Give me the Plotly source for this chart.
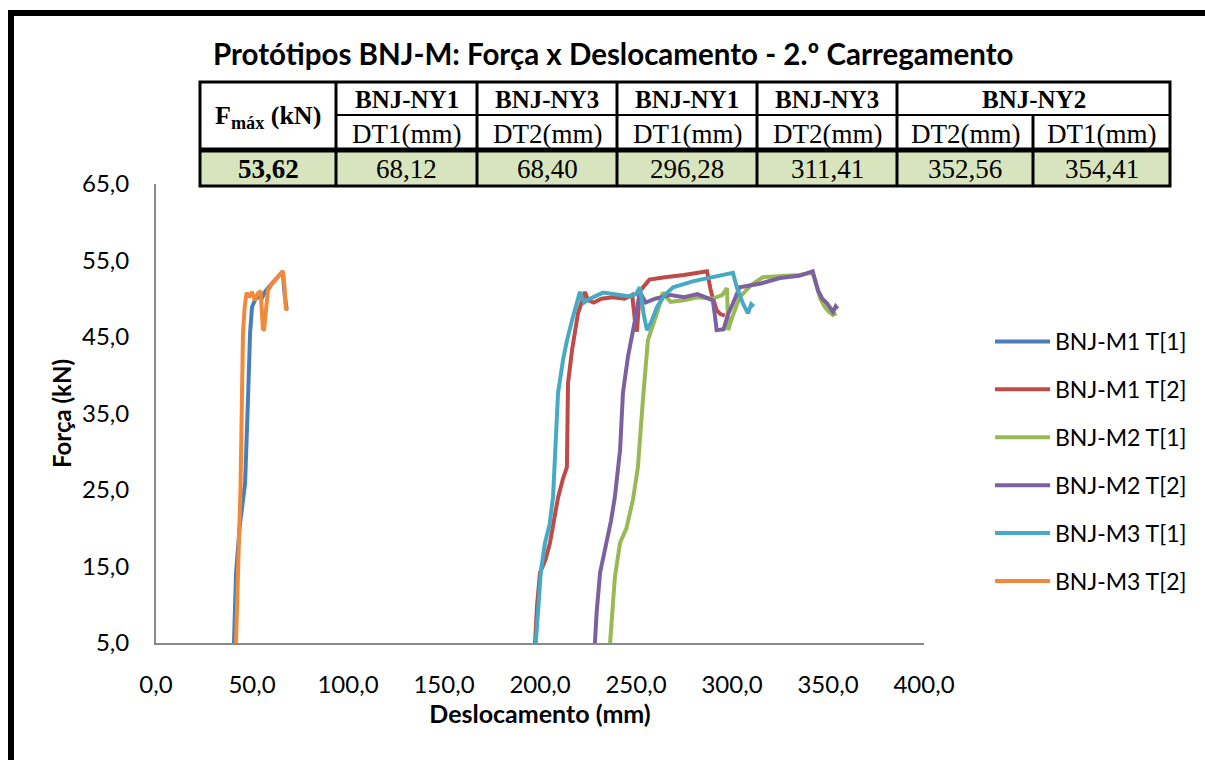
import plotly.graph_objects as go

# ---------------- data ----------------
series_names = ["BNJ-M1 T[1]", "BNJ-M1 T[2]", "BNJ-M2 T[1]", "BNJ-M2 T[2]", "BNJ-M3 T[1]", "BNJ-M3 T[2]"]
series_colors = ["#4A7EBB", "#BE4B48", "#98B954", "#7D60A0", "#46AAC5", "#F08A3A"]

m1t1_x = [40.6, 41.7, 43.5, 46.4, 47.9, 49.0, 50.0, 51.5, 53.0, 55.0, 57.0, 59.0, 61.5, 64.0, 66.0, 67.0, 68.1]
m1t1_y = [5.0, 14.2, 20.0, 25.9, 36.8, 45.5, 48.9, 49.8, 50.3, 50.0, 51.0, 51.5, 52.3, 53.0, 53.6, 50.5, 48.6]

m1t2_x = [197.4, 198.5, 200.0, 203.0, 205.2, 207.5, 209.4, 212.0, 214.0, 214.6, 216.7, 219.8, 223.4, 225.0, 228.0,
          232.0, 238.0, 244.0, 248.0, 249.5, 250.5, 252.0, 257.0, 265.0, 275.0, 287.0, 289.0, 292.0, 294.0, 296.3]
m1t2_y = [5.0, 10.0, 14.2, 16.0, 18.1, 21.0, 24.0, 26.5, 28.0, 39.0, 43.3, 48.1, 50.9, 49.8, 49.5,
          50.0, 50.2, 50.0, 50.5, 47.0, 45.7, 51.0, 52.5, 52.8, 53.1, 53.6, 51.0, 48.5, 48.0, 47.8]

m2t1_x = [236.5, 238.0, 239.0, 241.7, 245.0, 248.4, 251.0, 253.6, 256.2, 260.9, 264.0, 268.0, 275.0, 282.0, 290.0,
          295.0, 297.4, 298.0, 300.0, 304.0, 310.0, 316.0, 325.0, 335.0, 342.0, 343.6, 346.0, 348.4, 350.5, 352.6, 354.4]
m2t1_y = [5.0, 10.0, 13.6, 18.1, 20.0, 23.7, 28.0, 36.8, 44.6, 48.1, 50.8, 49.6, 49.8, 50.2, 50.0,
          50.5, 51.4, 45.9, 47.5, 50.2, 51.8, 52.8, 52.9, 53.1, 53.4, 52.0, 50.0, 48.9, 48.3, 47.9, 48.1]

m2t2_x = [228.6, 229.5, 231.3, 234.9, 237.0, 239.0, 241.7, 243.2, 245.8, 249.5, 252.0, 255.0, 260.0, 268.0, 275.0,
          282.0, 290.0, 291.0, 292.0, 295.6, 298.0, 300.5, 304.0, 315.0, 325.0, 335.0, 342.0, 344.8, 347.0, 349.5,
          352.6, 354.0, 355.0]
m2t2_y = [5.0, 9.0, 14.2, 18.5, 21.0, 24.1, 30.2, 37.7, 42.4, 47.2, 50.9, 49.5, 50.0, 50.5, 50.2,
          50.6, 49.8, 48.0, 45.9, 46.0, 48.0, 49.4, 51.5, 52.0, 52.7, 53.0, 53.6, 51.1, 50.0, 49.4,
          48.3, 49.0, 48.7]

m3t1_x = [197.8, 199.0, 200.5, 202.6, 205.0, 206.8, 208.0, 209.4, 212.0, 214.0, 216.7, 220.8, 223.0, 226.0, 232.8,
          240.0, 246.9, 250.0, 252.0, 254.0, 255.7, 258.0, 260.9, 265.0, 269.3, 280.0, 290.0, 300.5, 302.5, 305.7,
          308.3, 310.0, 311.4]
m3t1_y = [5.0, 10.0, 14.5, 18.1, 20.5, 24.1, 30.0, 37.7, 42.0, 44.5, 47.2, 50.9, 49.5, 50.0, 50.8,
          50.5, 50.3, 50.6, 51.5, 48.0, 45.9, 47.0, 48.9, 50.5, 51.5, 52.3, 52.9, 53.4, 51.5, 49.4,
          48.1, 49.3, 49.0]

m3t2_x = [41.7, 42.3, 43.2, 44.0, 44.6, 45.3, 46.2, 47.2, 48.5, 50.0, 51.5, 53.0, 54.5, 55.2, 55.7, 56.3,
          58.3, 60.5, 63.0, 66.1, 66.8, 67.2, 67.7, 68.4]
m3t2_y = [5.0, 12.0, 18.5, 25.0, 34.5, 45.5, 49.0, 50.8, 50.2, 50.9, 49.8, 50.7, 51.0, 48.0, 45.9, 46.0,
          51.1, 52.0, 52.8, 53.62, 52.0, 49.8, 48.5, 48.8]

series_x = [m1t1_x, m1t2_x, m2t1_x, m2t2_x, m3t1_x, m3t2_x]
series_y = [m1t1_y, m1t2_y, m2t1_y, m2t2_y, m3t1_y, m3t2_y]

x_ticks = [0, 50, 100, 150, 200, 250, 300, 350, 400]
y_ticks = [5, 15, 25, 35, 45, 55, 65]

title_text = "Protótipos BNJ-M: Força x Deslocamento - 2.º Carregamento"
x_title = "Deslocamento (mm)"
y_title = "Força (kN)"

fmax_label = "F<sub>máx</sub> (kN)"
fmax_value = "53,62"
table_groups = ["BNJ-NY1", "BNJ-NY3", "BNJ-NY1", "BNJ-NY3", "BNJ-NY2"]
table_group_spans = [1, 1, 1, 1, 2]
table_sensors = ["DT1(mm)", "DT2(mm)", "DT1(mm)", "DT2(mm)", "DT2(mm)", "DT1(mm)"]
table_values = ["68,12", "68,40", "296,28", "311,41", "352,56", "354,41"]

# ---------------- layout geometry (pixels) ----------------
W, H = 1205, 760
PL, PR, PT, PB = 156, 924, 184, 643  # plot area


def px(x):
    return (x - PL) / (PR - PL)


def py(y):
    return (PB - y) / (PB - PT)


FONT = "Lato"
SERIF = "Liberation Serif"

fig = go.Figure()
for name, color, xs, ys in zip(series_names, series_colors, series_x, series_y):
    fig.add_trace(go.Scatter(x=xs, y=ys, mode="lines", name=name, legendgroup=name,
                             line=dict(color=color, width=4)))

shapes = []
annotations = []


def text(x, y, s, family, size):
    annotations.append(dict(xref="paper", yref="paper", x=px(x), y=py(y), text=s, showarrow=False,
                            xanchor="center", yanchor="middle",
                            font=dict(family=family, size=size, color="black")))


# outer chart frame (top & left visible)
shapes.append(dict(type="line", xref="paper", yref="paper", x0=px(8), x1=px(1210), y0=py(13), y1=py(13),
                   line=dict(color="black", width=6)))
shapes.append(dict(type="line", xref="paper", yref="paper", x0=px(11), x1=px(11), y0=py(10), y1=py(770),
                   line=dict(color="black", width=6)))

# table
cols = [200, 336, 477, 617, 757, 897, 1033, 1170]
rows = [82, 115, 150, 186]
shapes.append(dict(type="rect", xref="paper", yref="paper", x0=px(cols[0]), x1=px(cols[-1]),
                   y0=py(rows[2]), y1=py(rows[3]), fillcolor="#D7E4BD", line=dict(width=0), layer="below"))
shapes.append(dict(type="rect", xref="paper", yref="paper", x0=px(cols[0]), x1=px(cols[-1]),
                   y0=py(rows[0]), y1=py(rows[3]), line=dict(color="black", width=3)))
shapes.append(dict(type="line", xref="paper", yref="paper", x0=px(cols[1]), x1=px(cols[-1]),
                   y0=py(rows[1]), y1=py(rows[1]), line=dict(color="black", width=2)))
shapes.append(dict(type="line", xref="paper", yref="paper", x0=px(cols[0]), x1=px(cols[-1]),
                   y0=py(rows[2]), y1=py(rows[2]), line=dict(color="black", width=5)))
for i in range(1, len(cols) - 1):
    top = rows[1] if cols[i] == 1033 else rows[0]
    shapes.append(dict(type="line", xref="paper", yref="paper", x0=px(cols[i]), x1=px(cols[i]),
                       y0=py(top), y1=py(rows[3]), line=dict(color="black", width=3)))

# table texts
text((cols[0] + cols[1]) / 2, (rows[0] + rows[2]) / 2 + 1, "<b>" + fmax_label + "</b>", SERIF, 26)
text((cols[0] + cols[1]) / 2, (rows[2] + rows[3]) / 2 + 1, "<b>" + fmax_value + "</b>", SERIF, 27)
ci = 1
for g, span in zip(table_groups, table_group_spans):
    text((cols[ci] + cols[ci + span]) / 2, (rows[0] + rows[1]) / 2 + 1, "<b>" + g + "</b>", SERIF, 25)
    ci += span
for i, (s, v) in enumerate(zip(table_sensors, table_values)):
    xc = (cols[i + 1] + cols[i + 2]) / 2
    text(xc, (rows[1] + rows[2]) / 2 + 1, s, SERIF, 27)
    text(xc, (rows[2] + rows[3]) / 2 + 1, v, SERIF, 27)

# title
text(613, 53, "<b>" + title_text + "</b>", FONT, 29.5)

fig.update_layout(
    width=W, height=H,
    margin=dict(l=PL, r=W - PR, t=PT, b=H - PB, pad=0),
    paper_bgcolor="white", plot_bgcolor="white",
    separators=",.",
    font=dict(family=FONT, size=24, color="black"),
    showlegend=True,
    legend=dict(x=px(990), y=py(320), xanchor="left", yanchor="top", font=dict(family=FONT, size=23),
                tracegroupgap=15, itemwidth=55, bgcolor="rgba(0,0,0,0)"),
    shapes=shapes,
    annotations=annotations,
    xaxis=dict(range=[0, 400], tickvals=x_ticks, tickformat=".1f", showgrid=False, zeroline=False,
               showline=True, linecolor="#898989", linewidth=2, ticks="", ticklabelstandoff=19,
               tickfont=dict(size=24),
               title=dict(text="<b>" + x_title + "</b>", font=dict(family=FONT, size=25), standoff=9)),
    yaxis=dict(range=[5, 65], tickvals=y_ticks, tickformat=".1f", showgrid=False, zeroline=False,
               showline=True, linecolor="#898989", linewidth=2, ticks="", ticklabelstandoff=20,
               tickfont=dict(size=24),
               title=dict(text="<b>" + y_title + "</b>", font=dict(family=FONT, size=24), standoff=4)),
)

fig.write_html("out.html", config={"displayModeBar": False},
               post_script="document.body.style.margin='0px';document.body.style.overflow='hidden';")
